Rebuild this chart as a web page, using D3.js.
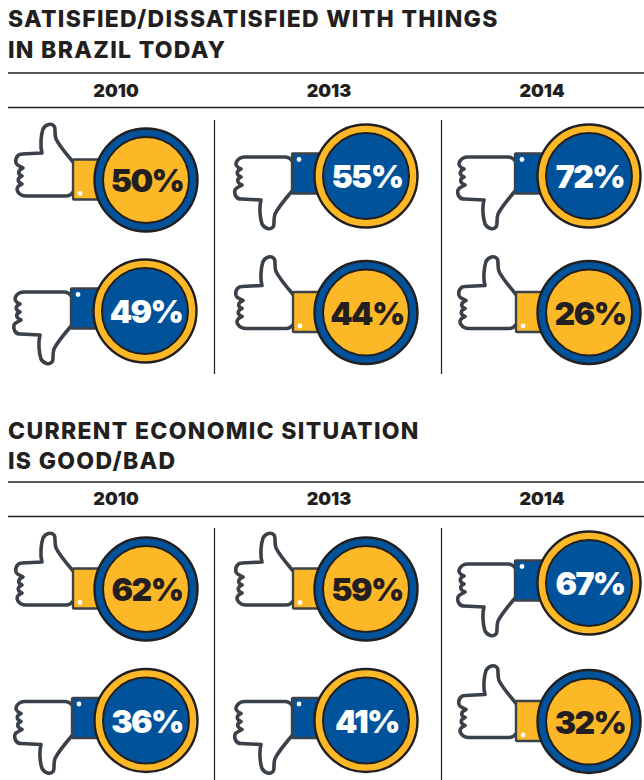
<!DOCTYPE html>
<html>
<head>
<meta charset="utf-8">
<script src="https://cdn.jsdelivr.net/npm/d3@7"></script>
<style>
  html, body { margin: 0; background: #fff; }
  svg { display: block; }
  text { font-family: Inter, "Noto Sans", sans-serif; fill: #231f20; }
</style>
</head>
<body>
<svg id="chart" width="644" height="780"></svg>
<script>
// Survey values: first entry of each pair is the top badge in its column.
const years = ["2010", "2013", "2014"];
const satisfiedTitle = ["SATISFIED/DISSATISFIED WITH THINGS", "IN BRAZIL TODAY"];
const satisfiedTop = [50, 55, 72];
const satisfiedBottom = [49, 44, 26];
const satisfiedTopKind = ["up", "down", "down"];
const economyTitle = ["CURRENT ECONOMIC SITUATION", "IS GOOD/BAD"];
const economyTop = [62, 59, 67];
const economyBottom = [36, 41, 32];
const economyTopKind = ["up", "up", "down"];

const YELLOW = "#fdb827", BLUE = "#00539b", INK = "#231f20", HAND = "#3a4148";

const svg = d3.select("#chart");
const column = d3.scaleOrdinal().domain(years).range([146, 366, 589]);
const yearLabelX = d3.scaleOrdinal().domain(years).range([116, 329, 542]);

// Thumb-up outline, relative to the badge centre; thumbs-down is its mirror.
const handPath = "M-72,-17 C-78,-24 -86,-33 -90,-41 C-92,-47 -90,-52 -92,-54 C-95,-57 -100,-56 -103,-51 " +
  "C-105,-45 -106,-34 -104,-27 L-124,-26 C-129,-26 -131,-21 -130,-17 C-129,-14 -126,-14 -123,-12 " +
  "C-128,-10 -129,-6 -124,-4 C-129,-2 -129,2 -124,4 C-129,6 -130,9 -128,12 C-126,15 -124,16 -120,16 " +
  "L-80,16 C-76,16 -74,14 -72,11";

function badge(g, value, kind, x, y) {
  const up = kind === "up";
  const face = up ? YELLOW : BLUE, rim = up ? BLUE : YELLOW;
  const b = g.append("g").attr("transform", `translate(${x},${y})`);
  const icon = b.append("g").attr("transform", up ? null : "translate(-1,-3) scale(1,-1)");
  icon.append("path").attr("d", handPath)
    .attr("fill", "#fff").attr("stroke", HAND).attr("stroke-width", 3.6).attr("stroke-linejoin", "round");
  icon.append("rect").attr("x", -73).attr("y", -20.5).attr("width", 30).attr("height", 40).attr("rx", 1)
    .attr("fill", face).attr("stroke", HAND).attr("stroke-width", 2.4);
  icon.append("circle").attr("cx", -66).attr("cy", 13.5).attr("r", 2.4).attr("fill", "#fff");
  b.append("circle").attr("r", 51.5).attr("fill", rim).attr("stroke", INK).attr("stroke-width", 2.4);
  b.append("circle").attr("r", 43).attr("fill", face).attr("stroke", INK).attr("stroke-width", 2);
  b.append("text").text(value + "%")
    .attr("text-anchor", "middle").attr("x", 1).attr("y", 12).attr("font-size", 32).attr("font-weight", 900)
    .attr("letter-spacing", -1.6)
    .style("fill", up ? INK : "#fff");
}

function section(cfg) {
  const g = svg.append("g");
  g.selectAll("text.title").data(cfg.title).join("text").attr("class", "title")
    .attr("x", 8).attr("y", (d, i) => cfg.titleY[i])
    .attr("font-size", 23).attr("font-weight", 800).attr("letter-spacing", 1.3).text(d => d);
  cfg.rules.forEach(y => g.append("line").attr("x1", 8).attr("x2", 644).attr("y1", y).attr("y2", y)
    .attr("stroke", INK).attr("stroke-width", 1.3));
  g.selectAll("text.year").data(years).join("text").attr("class", "year")
    .attr("x", d => yearLabelX(d)).attr("y", cfg.yearY)
    .attr("text-anchor", "middle").attr("font-size", 18).attr("font-weight", 900).text(d => d);
  [214.5, 441.5].forEach(x => g.append("line").attr("x1", x).attr("x2", x)
    .attr("y1", cfg.divider[0]).attr("y2", cfg.divider[1]).attr("stroke", INK).attr("stroke-width", 1.2));
  years.forEach((yr, i) => {
    const topKind = cfg.topKind[i];
    badge(g, cfg.top[i], topKind, column(yr) + cfg.topNudge[i][0], cfg.topY + cfg.topNudge[i][1]);
    badge(g, cfg.bottom[i], topKind === "up" ? "down" : "up", column(yr) + cfg.bottomNudge[i][0], cfg.bottomY + cfg.bottomNudge[i][1]);
  });
}

section({
  title: satisfiedTitle, titleY: [27, 58], rules: [73, 107.5], yearY: 97, divider: [120, 374],
  top: satisfiedTop, bottom: satisfiedBottom, topKind: satisfiedTopKind,
  topY: 176, bottomY: 312.5,
  topNudge: [[0, 4], [0, 0], [0, 0]], bottomNudge: [[-1, -1.5], [0, 0], [0, 0]]
});
section({
  title: economyTitle, titleY: [439, 469], rules: [482, 516.5], yearY: 505, divider: [528, 780],
  top: economyTop, bottom: economyBottom, topKind: economyTopKind,
  topY: 589, bottomY: 720.5,
  topNudge: [[0, 0], [0, 0], [0, -6]], bottomNudge: [[0, 0], [0, 0], [0, 1]]
});
</script>
</body>
</html>
